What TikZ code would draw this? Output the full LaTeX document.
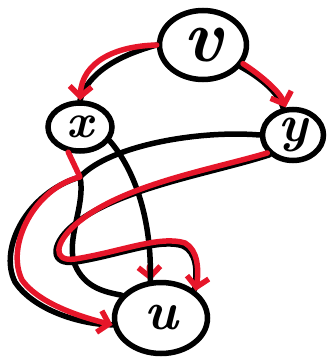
\documentclass[tikz,border=0pt]{standalone}
\usetikzlibrary{shapes.geometric,arrows.meta}
\definecolor{penred}{RGB}{230,22,42}
\tikzset{
  vertex/.style={ellipse,draw,line width=5.5pt,inner sep=0pt},
  pen/.style={line width=5.5pt,line cap=round,line join=round},
  redpen/.style={pen,penred,-{Straight Barb[length=10pt,width=22pt]}},
}
\newcommand{\hand}[2]{{\fontsize{#1}{#1}\selectfont\bfseries\itshape #2}}
\begin{document}
\begin{tikzpicture}[x=1pt,y=-1pt]
\useasboundingbox (0,0) rectangle (331,359);
% the four vertices
\node[vertex,minimum width=87pt,minimum height=69pt] (v) at (203,45) {\hand{74}{v}};
\node[vertex,minimum width=64pt,minimum height=48pt] (x) at (80,127) {\hand{48}{x}};
\node[vertex,minimum width=61pt,minimum height=51pt] (y) at (293,135) {\hand{52}{y}};
\node[vertex,minimum width=93pt,minimum height=71pt] (u) at (161,318) {\hand{54}{u}};
\coordinate (j) at (80,177);

% small red tip under the middle stroke
\draw[redpen] ([shift={(-1,-14)}]u.106) -- (u.106);

% black strokes
\draw[pen] (v.west) .. controls (120,55) and (88,72) .. (x.north);
\draw[pen] (v.-30) .. controls (265,80) and (280,96) .. (y.110);
\draw[pen] (x.-25) .. controls (135,170) and (152,220) .. (u.106);
\draw[pen] (y.west) .. controls (200,130) and (110,145) .. (j);
\draw[pen] (j) .. controls (86,205) and (65,240) .. (75,265)
  .. controls (85,288) and (105,292) .. (u.150);
\draw[pen] (j) .. controls (28,192) and (-2,248) .. (15,282)
  .. controls (35,312) and (85,325) .. (u.188);
\draw[pen] (y.220) .. controls (210,174) and (118,188) .. (72,226)
  .. controls (50,245) and (50,266) .. (76,262)
  .. controls (120,255) and (160,238) .. (183,246)
  .. controls (196,252) and (198,270) .. (u.40);

% red arrows
\draw[redpen] (v.west) .. controls (115,46) and (82,62) .. (x.north);
\draw[redpen] (v.-25) .. controls (262,76) and (280,92) .. (y.105);
\draw[redpen] (x.245) -- (j) .. controls (35,188) and (5,245) .. (22,280)
  .. controls (40,305) and (85,318) .. (u.188);
\draw[redpen] (y.215) .. controls (210,170) and (120,185) .. (75,225)
  .. controls (55,243) and (52,262) .. (75,259)
  .. controls (120,252) and (160,235) .. (185,243)
  .. controls (198,250) and (199,270) .. (u.38);
\end{tikzpicture}
\end{document}
